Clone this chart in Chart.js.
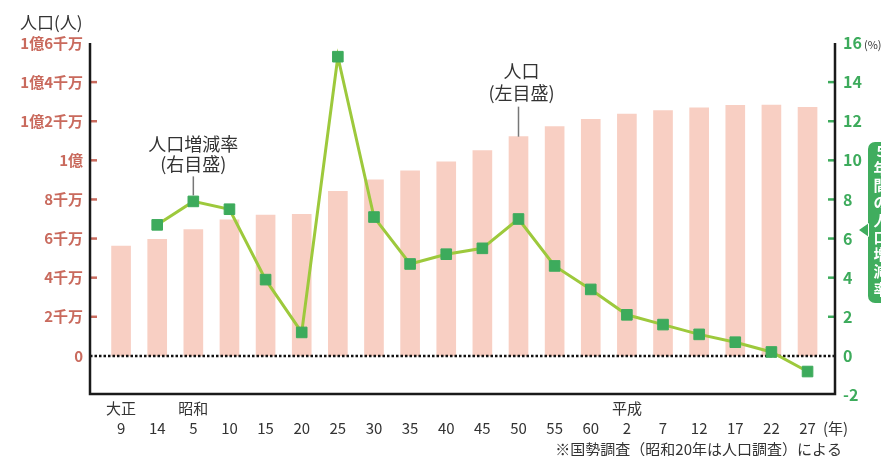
<!DOCTYPE html>
<html lang="ja">
<head>
<meta charset="utf-8">
<script src="https://cdn.jsdelivr.net/npm/chart.js@4.4.1/dist/chart.umd.min.js"></script>
<style>
  html,body{margin:0;padding:0;background:#fff;}
  #wrap{width:881px;height:456px;position:relative;}
</style>
</head>
<body>
<div id="wrap"><canvas id="c" width="881" height="456"></canvas></div>
<script>
// 国勢調査の年（元号）
const eras  = ['大正','','昭和','','','','','','','','','','','','平成','','','','',''];
const years = ['9','14','5','10','15','20','25','30','35','40','45','50','55','60','2','7','12','17','22','27'];
// 人口（百万人）
const population = [56.1,59.6,64.6,69.6,72.0,72.4,84.1,90.0,94.6,99.2,105.0,112.1,117.2,121.0,123.6,125.4,126.8,128.1,128.2,127.1];
// 5年間の人口増減率（%）
const rate = [null,6.7,7.9,7.5,3.9,1.2,15.3,7.1,4.7,5.2,5.5,7.0,4.6,3.4,2.1,1.6,1.1,0.7,0.2,-0.8];

const FONT = '"Noto Sans CJK JP","Noto Sans",sans-serif';
const RED = '#c96a5d', GREEN = '#3dab5c', INK = '#333';

function popLabel(v){
  if (v < 0) return '';
  if (v === 0) return '0';
  if (v >= 100) return '1億' + (v > 100 ? (v - 100) / 10 + '千万' : '');
  return v / 10 + '千万';
}

const deco = {
  id:'deco',
  afterDatasetDraw(chart, args){
    if (args.index !== 0) return;
    const {ctx, chartArea:a, scales:{y}} = chart;
    const y0 = y.getPixelForValue(0);
    ctx.save();
    ctx.strokeStyle = '#111'; ctx.lineWidth = 2.5; ctx.setLineDash([2.5,2]);
    ctx.beginPath(); ctx.moveTo(a.left, y0); ctx.lineTo(a.right, y0); ctx.stroke();
    ctx.restore();
  },
  afterDraw(chart){
    const {ctx, chartArea:a, scales:{x, y, y1}} = chart;
    ctx.save();
    // inner tick marks
    ctx.lineWidth = 2.5;
    ctx.strokeStyle = RED;
    for (let v = 20; v < 160; v += 20){
      const py = y.getPixelForValue(v);
      ctx.beginPath(); ctx.moveTo(a.left, py); ctx.lineTo(a.left + 7, py); ctx.stroke();
    }
    ctx.strokeStyle = GREEN;
    for (let v = 2; v < 16; v += 2){
      const py = y1.getPixelForValue(v);
      ctx.beginPath(); ctx.moveTo(a.right - 7, py); ctx.lineTo(a.right, py); ctx.stroke();
    }
    // frame
    ctx.strokeStyle = '#1a1a1a'; ctx.lineWidth = 2.5;
    ctx.beginPath();
    ctx.moveTo(a.left, a.top); ctx.lineTo(a.left, a.bottom - 1);
    ctx.lineTo(a.right, a.bottom - 1); ctx.lineTo(a.right, a.top);
    ctx.stroke();

    // titles
    ctx.fillStyle = INK; ctx.textBaseline = 'middle';
    ctx.font = '17px ' + FONT; ctx.textAlign = 'left';
    ctx.fillText('人口(人)', 20, 23);
    ctx.font = '11px ' + FONT;
    ctx.fillText('(%)', 864, 45);
    ctx.font = '15px ' + FONT;
    ctx.fillText('(年)', 823, 428);
    ctx.textAlign = 'right';
    ctx.fillText('※国勢調査（昭和20年は人口調査）による', 842, 449);

    // annotations
    ctx.textAlign = 'center'; ctx.font = '18px ' + FONT;
    ctx.strokeStyle = '#777'; ctx.lineWidth = 1.5;
    const rx = x.getPixelForValue(2), ry = y1.getPixelForValue(rate[2]);
    ctx.fillText('人口増減率', rx, ry - 57);
    ctx.fillText('(右目盛)', rx, ry - 37);
    ctx.beginPath(); ctx.moveTo(rx, ry - 25); ctx.lineTo(rx, ry - 6); ctx.stroke();
    const px = x.getPixelForValue(11), py = y.getPixelForValue(population[11]);
    ctx.fillText('人口', px + 3, py - 66);
    ctx.fillText('(左目盛)', px + 3, py - 44);
    ctx.beginPath(); ctx.moveTo(px, py - 30); ctx.lineTo(px, py); ctx.stroke();

    // side tab
    ctx.fillStyle = '#40ad5e';
    ctx.beginPath();
    ctx.roundRect(868, 142, 40, 161, 7);
    ctx.moveTo(869, 223); ctx.lineTo(859, 230); ctx.lineTo(869, 237);
    ctx.fill();
    ctx.fillStyle = '#fff'; ctx.font = 'bold 15px ' + FONT;
    '5年間の人口増減率'.split('').forEach((ch, i) => ctx.fillText(ch, 881, 151 + i * 17.25));
    ctx.restore();
  }
};

new Chart(document.getElementById('c'), {
  data:{
    datasets:[
      { type:'bar', data: population.map((v,i)=>({x:i, y:v})), yAxisID:'y',
        backgroundColor:'#f8cfc3', barThickness:19, order:2 },
      { type:'line', data: rate.map((v,i)=>({x:i, y:v})), yAxisID:'y1',
        borderColor:'#9dc93c', borderWidth:3, tension:0, spanGaps:false,
        pointStyle:'rect', pointRadius:7.5, pointBackgroundColor:'#3dab5c',
        pointBorderColor:'#3dab5c', pointBorderWidth:1, order:1 }
    ]
  },
  options:{
    responsive:false, animation:false,
    layout:{ padding:{ top:43, left:0, right:0, bottom:0 } },
    plugins:{ legend:{display:false}, tooltip:{enabled:false} },
    scales:{
      x:{ type:'linear', min:-0.86, max:19.76, offset:false,
        grid:{display:false, tickLength:0}, border:{display:false},
        afterFit(s){ s.height = 61; },
        ticks:{ stepSize:1, includeBounds:false, autoSkip:false, maxRotation:0, padding:3,
          color:INK, font:{family:FONT, size:15, lineHeight:1.35},
          callback:v => Number.isInteger(v) && v >= 0 && v < years.length ? [eras[v], years[v]] : '' } },
      y:{ position:'left', min:-20, max:160,
        grid:{display:false, tickLength:0}, border:{display:false},
        afterFit(s){ s.width = 90; },
        ticks:{ stepSize:20, padding:7, color:RED, font:{family:FONT, size:15, weight:'bold'},
          callback:popLabel } },
      y1:{ position:'right', min:-2, max:16,
        grid:{display:false, tickLength:0}, border:{display:false},
        afterFit(s){ s.width = 46; },
        ticks:{ stepSize:2, padding:8, color:GREEN, font:{family:FONT, size:16, weight:'bold'} } }
    }
  },
  plugins:[deco]
});
</script>
</body>
</html>
